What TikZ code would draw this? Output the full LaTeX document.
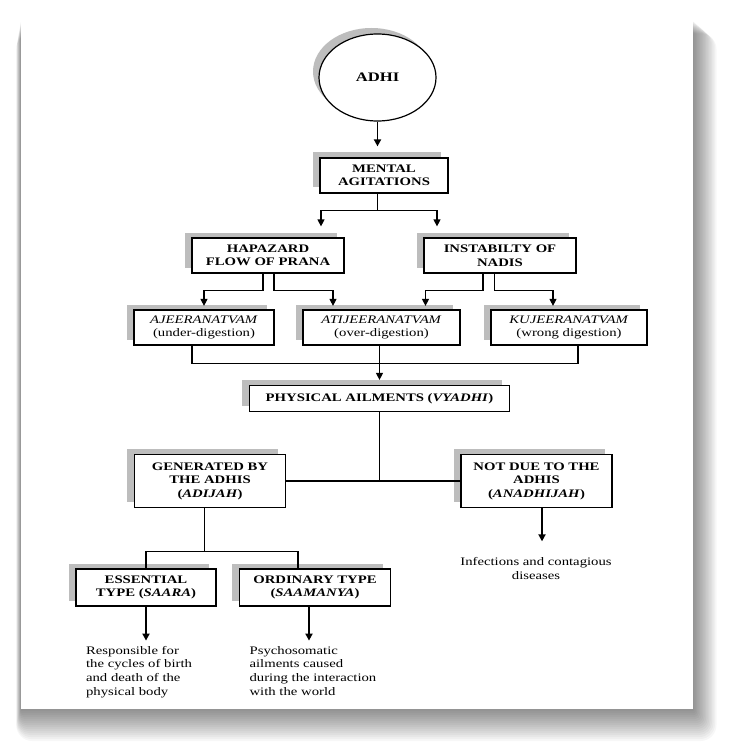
\documentclass[tikz,border=0pt]{standalone}
\usepackage{fontspec}
\setmainfont{Liberation Serif}[FakeStretch=1.28]
\usetikzlibrary{shapes.geometric, shadows, arrows.meta}
\definecolor{shade-gray}{HTML}{BDBDBD}

\begin{document}
\begin{tikzpicture}[x=1pt, y=-1pt,
        every node/.style={font=\fontsize{11.5}{13.5}\selectfont},
        >={Triangle[length=7pt, width=7pt]},
        line width=1.2pt,
        box/.style={draw, fill=white, line width=1.2pt, inner sep=0pt, align=center,
            font=\fontsize{11.5}{13.5}\selectfont\bfseries,
            drop shadow={shadow xshift=-7.5pt, shadow yshift=5.5pt, fill=shade-gray, opacity=1}},
        dbox/.style={box, font=\fontsize{11.5}{13.5}\selectfont},
        note/.style={inner sep=0pt, align=center, font=\fontsize{11.5}{13.7}\selectfont},
        heavy/.style={->, line width=1.8pt}]
      % page and its shadow
      \useasboundingbox (0,0) rectangle (730,751);
      \fill[white] (0,0) rectangle (730,751);
      \foreach \k in {1,...,16}
        \fill[black, opacity=0.032, rounded corners=\k pt]
          (21-0.3*\k, 20.5+0.8*\k) rectangle (692.5+1.5*\k, 709+2.0*\k);
      \fill[white] (21,20.5) rectangle (692.5,709);

      % nodes
      \node[ellipse, draw, fill=white, line width=1.2pt, minimum width=117pt, minimum height=87pt,
            font=\fontsize{13}{15}\selectfont\bfseries,
            drop shadow={shadow xshift=-6pt, shadow yshift=6pt, fill=shade-gray, opacity=1}]
            (ADHI) at (377.5,77.5) {ADHI};
      \node[box, minimum width=128pt, minimum height=35pt] (MA) at (384,175.5) {MENTAL\\AGITATIONS};
      \node[box, minimum width=152pt, minimum height=35pt] (HFP) at (268,255.5) {HAPAZARD\\FLOW OF PRANA};
      \node[box, minimum width=152pt, minimum height=35pt] (IN) at (500,255.5) {INSTABILTY OF\\NADIS};
      \node[dbox, minimum width=140pt, minimum height=35pt] (AJ) at (204,327.5) {\textit{AJEERANATVAM}\\(under-digestion)};
      \node[dbox, minimum width=157pt, minimum height=35pt] (AT) at (381.5,327.5) {\textit{ATIJEERANATVAM}\\(over-digestion)};
      \node[dbox, minimum width=156pt, minimum height=35pt] (KU) at (569,327.5) {\textit{KUJEERANATVAM}\\(wrong digestion)};
      \node[box, minimum width=260pt, minimum height=26pt] (PA) at (379.5,398.5) {PHYSICAL AILMENTS (\textit{VYADHI})};
      \node[box, minimum width=151.5pt, minimum height=52.5pt] (GE) at (210,481) {GENERATED BY\\THE ADHIS\\(\textit{ADIJAH})};
      \node[box, minimum width=151pt, minimum height=52.5pt] (ND) at (536.5,481) {NOT DUE TO THE\\ADHIS\\(\textit{ANADHIJAH})};
      \node[box, minimum width=140pt, minimum height=37pt] (ES) at (146,587.5) {ESSENTIAL\\TYPE (\textit{SAARA})};
      \node[box, minimum width=151.5pt, minimum height=37pt] (OR) at (315,587.5) {ORDINARY TYPE\\(\textit{SAAMANYA})};
      \node[note, anchor=north] (IF) at (536,557) {Infections and contagious\\diseases};
      \node[note, anchor=north west, align=left] (RB) at (85.5,645.5) {Responsible for\\the cycles of birth\\and death of the\\physical body};
      \node[note, anchor=north west, align=left] (PS) at (249,645.5) {Psychosomatic\\ailments caused\\during the interaction\\with the world};

      % connectors
      \draw[heavy, shorten >=11pt] (ADHI.south) -- (ADHI.south |- MA.north);
      \draw (ADHI.south |- MA.south) -- ++(0,17) coordinate (split);
      \draw[->, shorten >=11pt] (split) -| ([xshift=53pt]HFP.north);
      \draw[->, shorten >=11pt] (split) -| ([xshift=-63pt]IN.north);

      \draw[->, shorten >=3.5pt] ([xshift=-5pt]HFP.south) -- ++(0,17) -| (AJ.north);
      \draw[->, shorten >=3.5pt] ([xshift=6pt]HFP.south) -- ++(0,17) -| ([xshift=-48.5pt]AT.north);
      \draw[->, shorten >=3.5pt] ([xshift=-17pt]IN.south) -- ++(0,17) -| ([xshift=44pt]AT.north);
      \draw[->, shorten >=3.5pt] ([xshift=-5.5pt]IN.south) -- ++(0,17) -| ([xshift=-16pt]KU.north);

      \draw ([xshift=-12pt]AJ.south) -- ++(0,18) -| ([xshift=9pt]KU.south);
      \draw[->, shorten >=5pt] (AT.south -| PA.north) -- (PA.north);

      \draw (PA.south) -- (PA.south |- GE.east);
      \draw (GE.east) -- (ND.west);
      \draw[heavy] ([xshift=5.5pt]ND.south) -- ++(0,33.5);

      \draw ([xshift=-5.5pt]GE.south) -- ++(0,44) coordinate (fork);
      \draw (ES.north) |- (fork) -| ([xshift=-17pt]OR.north);
      \draw[heavy] (ES.south) -- ++(0,34);
      \draw[heavy] ([xshift=-6pt]OR.south) -- ++(0,34);
    \end{tikzpicture}
\end{document}
